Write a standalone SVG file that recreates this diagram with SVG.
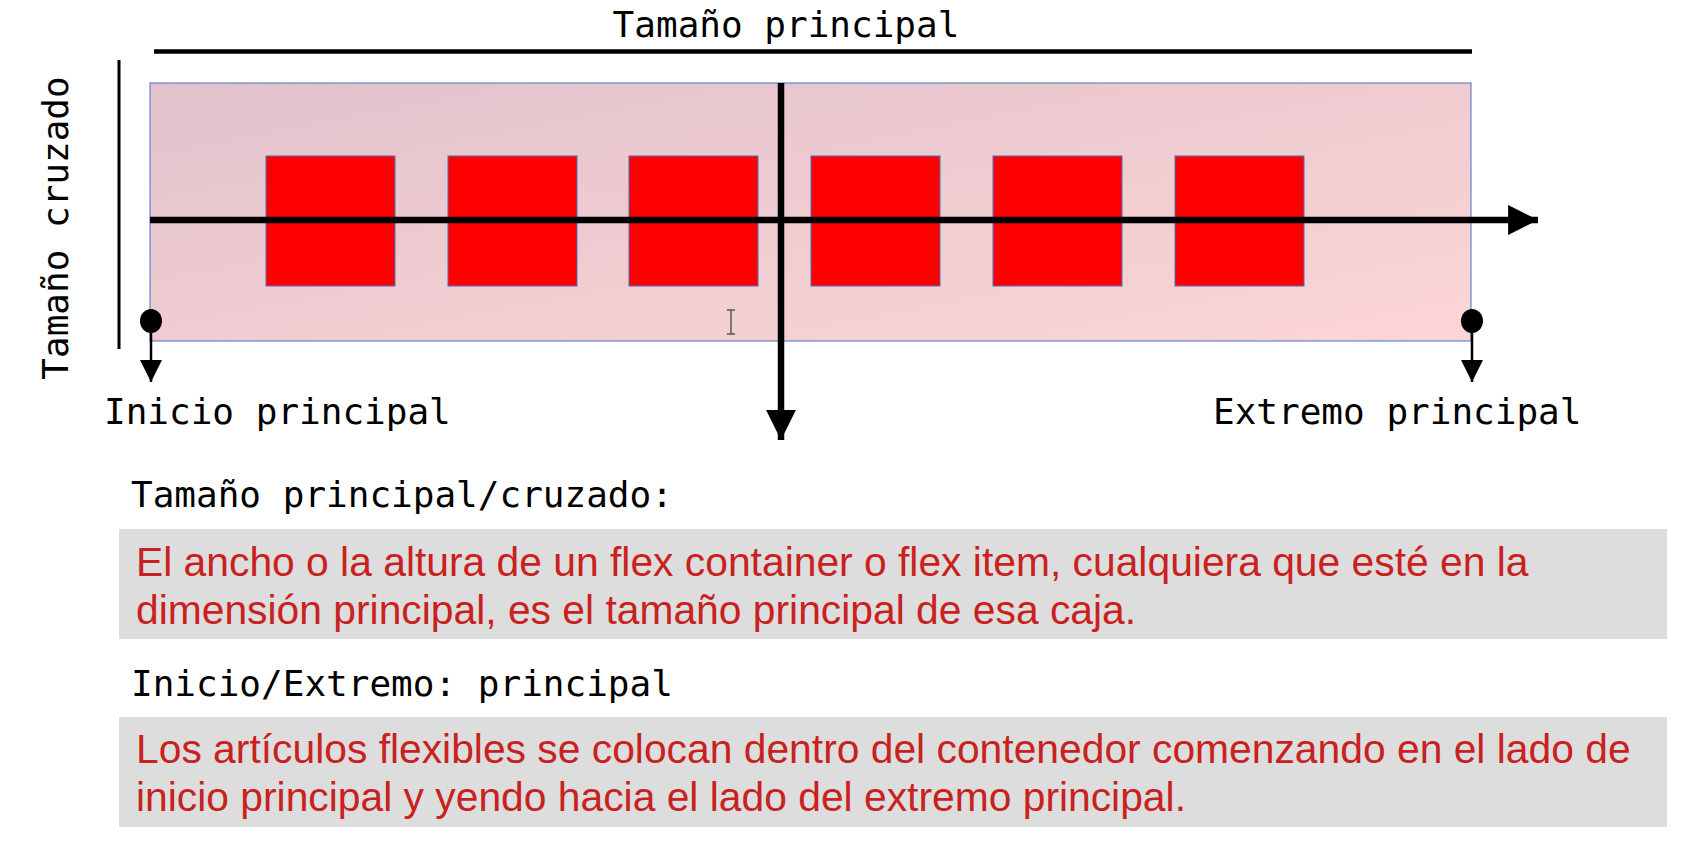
<svg xmlns="http://www.w3.org/2000/svg" width="1684" height="841" viewBox="0 0 1684 841">
<style>
.mono{font-family:"DejaVu Sans Mono","Liberation Mono",monospace;font-size:36px;fill:#000}
.body{font-family:"Liberation Sans",Arial,sans-serif;font-size:40.8px;fill:#c9211e}
.item{fill:#ff0000;stroke:#4472c4;stroke-width:1}
.ax{stroke:#000;fill:none}
</style>
<defs>
<linearGradient id="g" x1="0" y1="0" x2="1" y2="1">
<stop offset="0" stop-color="#e2c2cc"/>
<stop offset="1" stop-color="#fcd6d6"/>
</linearGradient>
<marker id="ah" viewBox="0 0 10 10" refX="10" refY="5" markerWidth="4.6" markerHeight="4.6" markerUnits="strokeWidth" orient="auto"><path d="M0,0 L10,5 L0,10 Z" fill="#000"/></marker>
<marker id="as" viewBox="0 0 10 10" refX="10" refY="5" markerWidth="9" markerHeight="9" markerUnits="strokeWidth" orient="auto"><path d="M0,0 L10,5 L0,10 Z" fill="#000"/></marker>
</defs>

<g id="labels">
<text class="mono" x="786" y="37" text-anchor="middle">Tamaño principal</text>
<text class="mono" transform="translate(68,228) rotate(-90)" text-anchor="middle">Tamaño cruzado</text>
<text class="mono" x="104" y="424">Inicio principal</text>
<text class="mono" x="1213" y="424">Extremo principal</text>
</g>

<g id="container">
<rect x="150" y="83" width="1321" height="258" fill="url(#g)" stroke="#4472c4" stroke-width="1"/>
</g>

<g id="items">
<rect id="item1" class="item" x="266" y="156" width="129" height="130"/>
<rect id="item2" class="item" x="448" y="156" width="129" height="130"/>
<rect id="item3" class="item" x="629" y="156" width="129" height="130"/>
<rect id="item4" class="item" x="811" y="156" width="129" height="130"/>
<rect id="item5" class="item" x="993" y="156" width="129" height="130"/>
<rect id="item6" class="item" x="1175" y="156" width="129" height="130"/>
</g>

<g id="connectors">
<line class="ax" x1="154" y1="51.5" x2="1472" y2="51.5" stroke-width="4.5"/>
<line class="ax" x1="119" y1="60" x2="119" y2="349" stroke-width="3"/>
<line class="ax" x1="150" y1="220" x2="1538" y2="220" stroke-width="6.5" marker-end="url(#ah)"/>
<line class="ax" x1="781" y1="83" x2="781" y2="440" stroke-width="6.5" marker-end="url(#ah)"/>
<ellipse cx="151" cy="321" rx="11" ry="12" fill="#000"/>
<line class="ax" x1="151" y1="321" x2="151" y2="382" stroke-width="2.5" marker-end="url(#as)"/>
<ellipse cx="1472" cy="321" rx="11" ry="12" fill="#000"/>
<line class="ax" x1="1472" y1="321" x2="1472" y2="382" stroke-width="2.5" marker-end="url(#as)"/>
</g>

<g id="cursor" stroke="#555" stroke-width="1.5" fill="none">
<path d="M727,310 h8 M731,310 v24 M727,334 h8"/>
</g>

<g id="def1">
<text class="mono" x="131" y="507">Tamaño principal/cruzado:</text>
<rect x="119" y="529" width="1548" height="110" fill="#dddddd"/>
<text class="body" x="136" y="576">El ancho o la altura de un flex container o flex item, cualquiera que esté en la</text>
<text class="body" x="136" y="624">dimensión principal, es el tamaño principal de esa caja.</text>
</g>

<g id="def2">
<text class="mono" x="131" y="696">Inicio/Extremo: principal</text>
<rect x="119" y="717" width="1548" height="110" fill="#dddddd"/>
<text class="body" x="136" y="763">Los artículos flexibles se colocan dentro del contenedor comenzando en el lado de</text>
<text class="body" x="136" y="811">inicio principal y yendo hacia el lado del extremo principal.</text>
</g>
</svg>
